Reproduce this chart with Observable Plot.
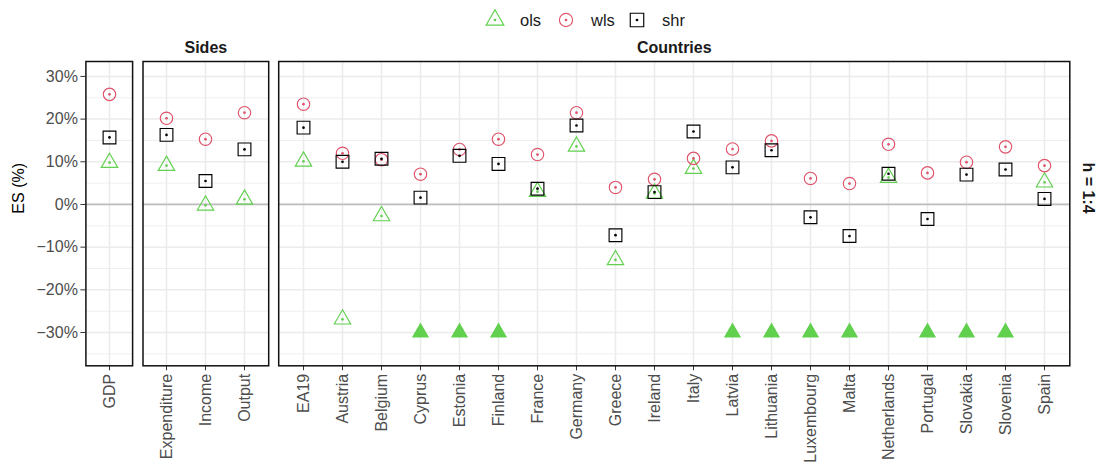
<!DOCTYPE html>
<html>
<head>
<meta charset="utf-8">
<script src="https://cdn.jsdelivr.net/npm/d3@7"></script>
<script src="https://cdn.jsdelivr.net/npm/@observablehq/plot@0.6"></script>
<style>
  body { margin: 0; background: #fff; font-family: "Liberation Sans", Arial, sans-serif; }
  #chart { position: relative; width: 1102px; height: 470px; overflow: hidden; }
  #chart svg { position: absolute; left: 0; top: 0; overflow: visible; }
</style>
</head>
<body>
<div id="chart"></div>
<script>
// ---------------- DATA ----------------
const series = ["ols", "wls", "shr"];
const seriesColors = ["#61D04F", "#DF536B", "#000000"];
const seriesSymbols = ["triangle", "circle", "square"];

const panelTitles = ["", "Sides", "Countries"];
const gdpCategories = ["GDP"];
const sidesCategories = ["Expenditure", "Income", "Output"];
const countryCategories = ["EA19", "Austria", "Belgium", "Cyprus", "Estonia", "Finland", "France", "Germany",
  "Greece", "Ireland", "Italy", "Latvia", "Lithuania", "Luxembourg", "Malta", "Netherlands", "Portugal",
  "Slovakia", "Slovenia", "Spain"];

// ES (%) values, in the order GDP, Sides, Countries. null = below the plotted range
const olsValues = [9.8, 9.1, -0.2, 1.2,
  10.1, -26.9, -2.7, null, null, null, 3.0, 13.6, -13.0, 2.6, 8.4, null, null, null, null, 6.3, null, null, null, 5.2];
const wlsValues = [25.8, 20.2, 15.3, 21.5,
  23.5, 12.0, 10.5, 7.1, 12.9, 15.3, 11.7, 21.5, 4.0, 5.9, 10.8, 13.0, 14.9, 6.1, 4.9, 14.1, 7.4, 9.9, 13.5, 9.1];
const shrValues = [15.7, 16.3, 5.5, 12.9,
  18.0, 10.0, 10.7, 1.6, 11.4, 9.5, 3.7, 18.5, -7.2, 2.9, 17.1, 8.7, 12.7, -3.0, -7.4, 7.2, -3.4, 7.0, 8.2, 1.3];

const yTicks = [-30, -20, -10, 0, 10, 20, 30];
const yMinorTicks = [-35, -25, -15, -5, 5, 15, 25];
const yDomain = [-37.8, 33.5];
const lowerCap = -30;       // out-of-range values are drawn as filled triangles here
const yTitle = "ES (%)";
const rowStrip = "h = 1:4";

// ---------------- BUILD TABLE ----------------
const allCategories = [...gdpCategories, ...sidesCategories, ...countryCategories];
const panelOf = allCategories.map((c, i) => i < gdpCategories.length ? 0 : i < gdpCategories.length + sidesCategories.length ? 1 : 2);
const valueSets = [olsValues, wlsValues, shrValues];
const rows = [];
series.forEach((s, si) => {
  allCategories.forEach((c, i) => {
    rows.push({series: s, si, category: c, panel: panelOf[i], value: valueSets[si][i]});
  });
});

// ---------------- LAYOUT ----------------
const W = 1102, H = 470;
const frameTop = 61, frameBottom = 365.3;
const panelBox = [[85.4, 132.1], [142.5, 268.2], [278.2, 1069.3]];
const panelCats = [gdpCategories, sidesCategories, countryCategories];
const font = "'Liberation Sans', Arial, sans-serif";
const symbolR = {triangle: 6.1, circle: 6.2, square: 7.2};

const container = document.getElementById("chart");

panelCats.forEach((cats, p) => {
  const data = rows.filter(d => d.panel === p);
  const inRange = data.filter(d => d.value != null);
  const clipped = data.filter(d => d.value == null);
  const marks = [
    Plot.ruleY(yMinorTicks, {stroke: "#EBEBEB", strokeWidth: 0.8}),
    Plot.ruleY(yTicks, {stroke: "#EBEBEB", strokeWidth: 1.5}),
    Plot.ruleX(cats, {stroke: "#EBEBEB", strokeWidth: 1.5}),
    Plot.ruleY([0], {stroke: "#BEBEBE", strokeWidth: 1.8}),
    Plot.axisX({anchor: "bottom", tickSize: 5, tickPadding: 3, tickRotate: -90, fontSize: 16,
      stroke: "#333", fill: "#4D4D4D", label: null})
  ];
  series.forEach((s, si) => {
    const sd = inRange.filter(d => d.si === si);
    const sym = seriesSymbols[si];
    marks.push(Plot.dot(sd, {x: "category", y: "value", symbol: () => sym, r: symbolR[sym],
      stroke: seriesColors[si], fill: "none", strokeWidth: 1.15}));
    marks.push(Plot.dot(sd, {x: "category", y: "value", r: 1.35, fill: seriesColors[si], stroke: "none"}));
  });
  marks.push(Plot.dot(clipped, {x: "category", y: () => lowerCap, symbol: () => "triangle", r: 6.4,
    fill: seriesColors[0], stroke: "none"}));
  marks.push(Plot.frame({stroke: "#111", strokeWidth: 1.5}));
  if (panelTitles[p]) {
    marks.push(Plot.text([panelTitles[p]], {text: d => d, frameAnchor: "top", lineAnchor: "middle", dy: -14,
      fontSize: 16, fontWeight: "bold", fill: "#1A1A1A"}));
  }
  if (p === 0) {
    marks.push(Plot.axisY({ticks: yTicks, tickFormat: d => (d < 0 ? "\u2212" + (-d) : d) + "%", tickSize: 5,
      tickPadding: 3, fontSize: 16, stroke: "#333", fill: "#4D4D4D", label: null}));
    marks.push(Plot.text([yTitle], {text: d => d, frameAnchor: "left", lineAnchor: "middle", dx: -67, rotate: -90,
      fontSize: 16, fill: "#000"}));
  }
  if (p === 2) {
    marks.push(Plot.text([rowStrip], {text: d => d, frameAnchor: "right", lineAnchor: "middle", dx: 18, rotate: 90,
      fontSize: 16, fontWeight: "bold", fill: "#1A1A1A"}));
  }
  const svg = Plot.plot({
    width: W, height: H,
    marginLeft: panelBox[p][0], marginRight: W - panelBox[p][1],
    marginTop: frameTop, marginBottom: H - frameBottom,
    style: {background: "transparent", fontFamily: font, fontSize: "16px", overflow: "visible"},
    x: {type: "point", domain: cats, padding: 0.6, axis: null},
    y: {domain: yDomain, axis: null},
    marks
  });
  container.appendChild(svg);
});

// ---------------- LEGEND ----------------
const legend = d3.select(container).append("svg")
  .attr("width", W).attr("height", 40)
  .style("font-family", font).style("font-size", "16.5px");
const legendX0 = 495, legendStep = 71, legendY = 20;
const legendR = {triangle: 6.6, circle: 6.6, square: 7.6};
series.forEach((s, si) => {
  const g = legend.append("g").attr("transform", `translate(${legendX0 + si * legendStep},${legendY})`);
  const sym = seriesSymbols[si];
  const d3sym = sym === "triangle" ? d3.symbolTriangle : sym === "circle" ? d3.symbolCircle : d3.symbolSquare;
  const r = legendR[sym];
  g.append("path").attr("d", d3.symbol(d3sym, r * r * Math.PI)())
    .attr("fill", "none").attr("stroke", seriesColors[si]).attr("stroke-width", 1.15);
  g.append("circle").attr("r", 1.35).attr("fill", seriesColors[si]);
  g.append("text").attr("x", 25).attr("dy", "0.35em").attr("fill", "#1A1A1A").text(s);
});
</script>
</body>
</html>
